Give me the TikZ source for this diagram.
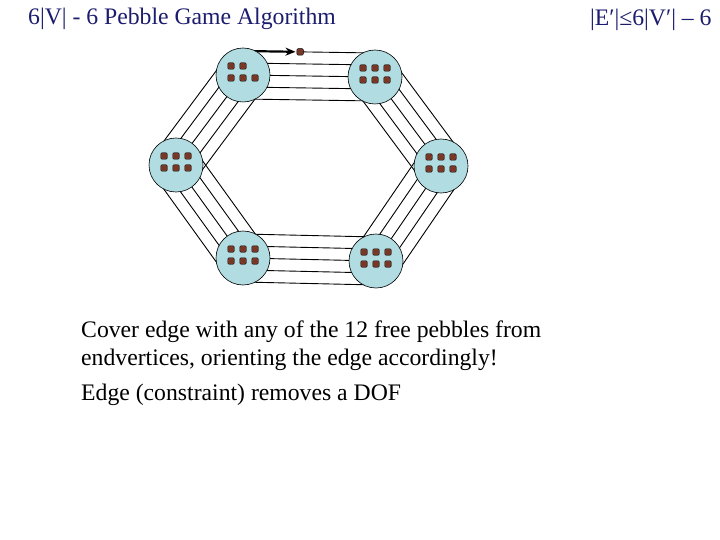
\documentclass[tikz,border=0pt]{standalone}
\usepackage{fontspec}
\setmainfont{Liberation Serif}
\usetikzlibrary{calc,backgrounds,arrows.meta}
\definecolor{navy}{RGB}{28,28,110}
\definecolor{vfill}{RGB}{176,220,226}
\definecolor{pbrown}{RGB}{120,56,40}
\tikzset{
  vert/.style={circle,draw=black,line width=0.6pt,fill=vfill,minimum size=54pt,inner sep=0pt},
  pebble/.style={draw=black,fill=pbrown,rounded corners=1.2pt,minimum size=6.5pt,inner sep=0pt,line width=0.4pt},
  bar/.style={draw=black,line width=0.9pt},
  ttl/.style={font=\fontsize{23.7pt}{28pt}\selectfont,text=navy,inner sep=0pt,anchor=base west},
  body/.style={font=\fontsize{23.7pt}{28pt}\selectfont,text=black,inner sep=0pt,anchor=base west}
}
\newcommand{\multiedge}[2]{%
  \foreach \d in {-24,-12,0,12,24}{
    \draw[bar] ($(#1)!\d pt!90:(#2)$) -- ($(#2)!\d pt!-90:(#1)$);
  }}
\begin{document}
\begin{tikzpicture}[x=1pt,y=-1pt]
\useasboundingbox (0,0) rectangle (720,540);
\node[vert] (TL) at (243,75) {};
\node[vert] (TR) at (375,77) {};
\node[vert] (L)  at (176,165) {};
\node[vert] (R)  at (441,166) {};
\node[vert] (BL) at (243,258) {};
\node[vert] (BR) at (376,261) {};
\begin{scope}[on background layer]
  \foreach \d in {-24,-12,0,12}{
    \draw[bar] ($(TL)!\d pt!90:(TR)$) -- ($(TR)!\d pt!-90:(TL)$);
  }
  \coordinate (a0) at ($(TL)!24pt!90:(TR)$);
  \coordinate (a1) at ($(TR)!24pt!-90:(TL)$);
  \coordinate (atip) at ($(a0)!0.395!(a1)$);
  \coordinate (ap) at ($(a0)!0.43!(a1)$);
  \draw[line width=2.2pt,-{Stealth[length=10pt,width=8pt]}] (a0) -- (atip);
  \draw[bar] (ap) -- (a1);
  \multiedge{TR}{R}
  \multiedge{R}{BR}
  \multiedge{BR}{BL}
  \multiedge{BL}{L}
  \multiedge{L}{TL}
\end{scope}
\node[pebble] (pa) at (ap) {};
% pebbles in vertices
\foreach \x/\y in {-12/-9,0/-9,-12/3,0/3,12/3}{
  \node[pebble] at ($(TL)+(\x,\y)$) {};}
\foreach \v in {TR,L,R,BL,BR}{
  \foreach \x/\y in {-12/-9,0/-9,12/-9,-12/3,0/3,12/3}{
    \node[pebble] at ($(\v)+(\x,\y)$) {};}}
\node[ttl] (t1) at (28,25) {6|V| - 6 Pebble Game Algorithm};
\node[ttl] (t2) at (590,26) {|E′|≤6|V′| – 6};
\node[body] (b1) at (81,337) {Cover edge with any of the 12 free pebbles from};
\node[body] (b2) at (81,365) {endvertices, orienting the edge accordingly!};
\node[body] (b3) at (81,400) {Edge (constraint) removes a DOF};
\end{tikzpicture}
\end{document}
